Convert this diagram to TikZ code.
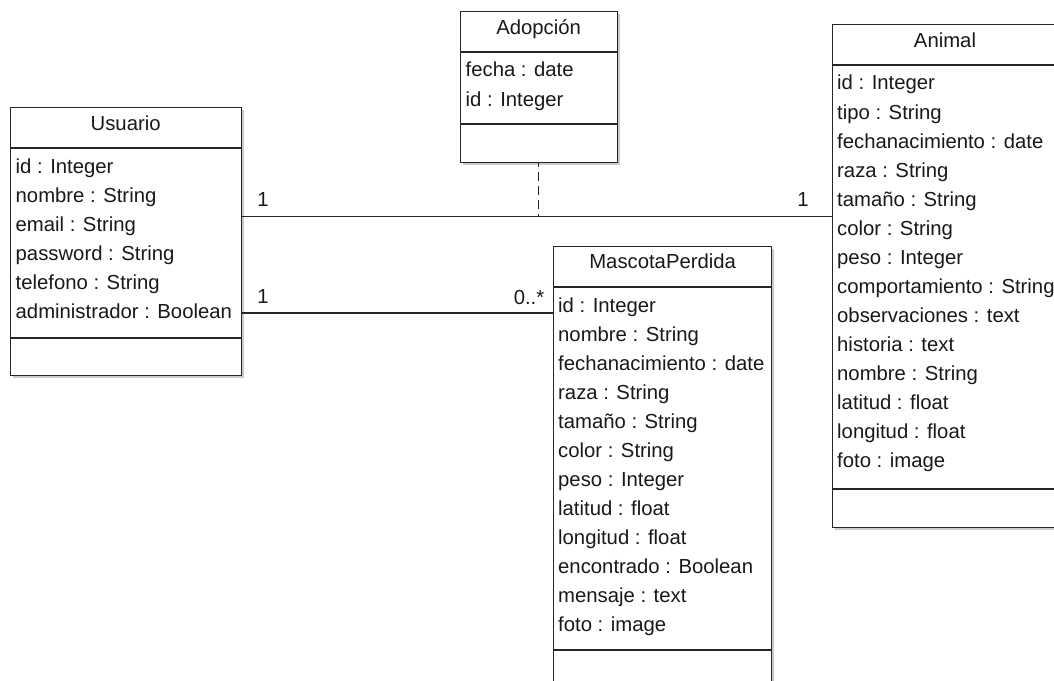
\documentclass[tikz,border=0pt]{standalone}
\usepackage{fontspec}
\setmainfont{Liberation Sans}
\usetikzlibrary{shadows}
\begin{document}
\begin{tikzpicture}[x=1bp,y=-1bp,
  cls/.style={draw=black!85, line width=1.3bp, fill=white, rectangle, inner sep=0pt, anchor=north west,
    drop shadow={shadow xshift=2.5bp, shadow yshift=-2.5bp, opacity=0.35, fill=black!60}},
  txt/.style={inner sep=0pt, font=\fontsize{20.3bp}{29bp}\selectfont, text=black!90},
  title/.style={txt, anchor=base},
  attr/.style={txt, anchor=base west},
  conn/.style={draw=black!85, line width=1.3bp},
  dep/.style={conn, dash pattern=on 9bp off 5bp, dash phase=-9bp}]
\useasboundingbox (0,0) rectangle (1054,681);
\clip (0,0) rectangle (1054,681);

% ---------- Usuario ----------
\node[cls, minimum width=231bp, minimum height=268bp] (usr) at (9.5,107) {};
\node[title] (usrT) at ([yshift=-24bp]usr.north) {Usuario};
\draw[conn] ([yshift=-41bp]usr.north west) -- ([yshift=-41bp]usr.north east);
\draw[conn] ([yshift=-231bp]usr.north west) -- ([yshift=-231bp]usr.north east);
\foreach \t [count=\i from 0] in {id : Integer, nombre : String, email : String, password : String, telefono : String, administrador : Boolean}
  \node[attr] (usr-\i) at ([xshift=6bp, yshift=-66bp-\i*29bp]usr.north west) {\t};

% ---------- Adopcion ----------
\node[cls, minimum width=157bp, minimum height=151bp] (adp) at (459.5,11) {};
\node[title] (adpT) at ([yshift=-23.5bp]adp.north) {Adopción};
\draw[conn] ([yshift=-41bp]adp.north west) -- ([yshift=-41bp]adp.north east);
\draw[conn] ([yshift=-113bp]adp.north west) -- ([yshift=-113bp]adp.north east);
\foreach \t [count=\i from 0] in {fecha : date, id : Integer}
  \node[attr] (adp-\i) at ([xshift=6bp, yshift=-66bp-\i*29bp]adp.north west) {\t};

% ---------- Animal ----------
\node[cls, minimum width=228bp, minimum height=503bp] (ani) at (832,24) {};
\node[title] (aniT) at ([yshift=-24bp]ani.north west -| 945,0) {Animal};
\draw[conn] ([yshift=-41bp]ani.north west) -- ([yshift=-41bp]ani.north east);
\draw[conn] ([yshift=-465bp]ani.north west) -- ([yshift=-465bp]ani.north east);
\foreach \t [count=\i from 0] in {id : Integer, tipo : String, fechanacimiento : date, raza : String, tamaño : String, color : String, peso : Integer, comportamiento : String, observaciones : text, historia : text, nombre : String, latitud : float, longitud : float, foto : image}
  \node[attr] (ani-\i) at ([xshift=5bp, yshift=-66bp-\i*29bp]ani.north west) {\t};

% ---------- MascotaPerdida ----------
\node[cls, minimum width=218bp, minimum height=460bp] (mas) at (553,245.5) {};
\node[title] (masT) at ([yshift=-23bp]mas.north) {MascotaPerdida};
\draw[conn] ([yshift=-41.5bp]mas.north west) -- ([yshift=-41.5bp]mas.north east);
\draw[conn] ([yshift=-404.5bp]mas.north west) -- ([yshift=-404.5bp]mas.north east);
\foreach \t [count=\i from 0] in {id : Integer, nombre : String, fechanacimiento : date, raza : String, tamaño : String, color : String, peso : Integer, latitud : float, longitud : float, encontrado : Boolean, mensaje : text, foto : image}
  \node[attr] (mas-\i) at ([xshift=5bp, yshift=-66.5bp-\i*29bp]mas.north west) {\t};

% ---------- connectors ----------
\coordinate (c1) at ([yshift=-109.5bp]usr.north east);
\coordinate (c2) at ([yshift=-206bp]usr.north east);
\draw[conn] (c1) -- (c1 -| ani.west);
\draw[conn] (c2) -- (c2 -| mas.west);
\draw[dep] (adp.south) -- (adp.south |- c1);

\node[title] (m1) at (263,207) {1};
\node[title] (m2) at (803,207) {1};
\node[title] (m3) at (263,303) {1};
\node[title] (m4) at (529,304) {0..*};
\end{tikzpicture}
\end{document}
